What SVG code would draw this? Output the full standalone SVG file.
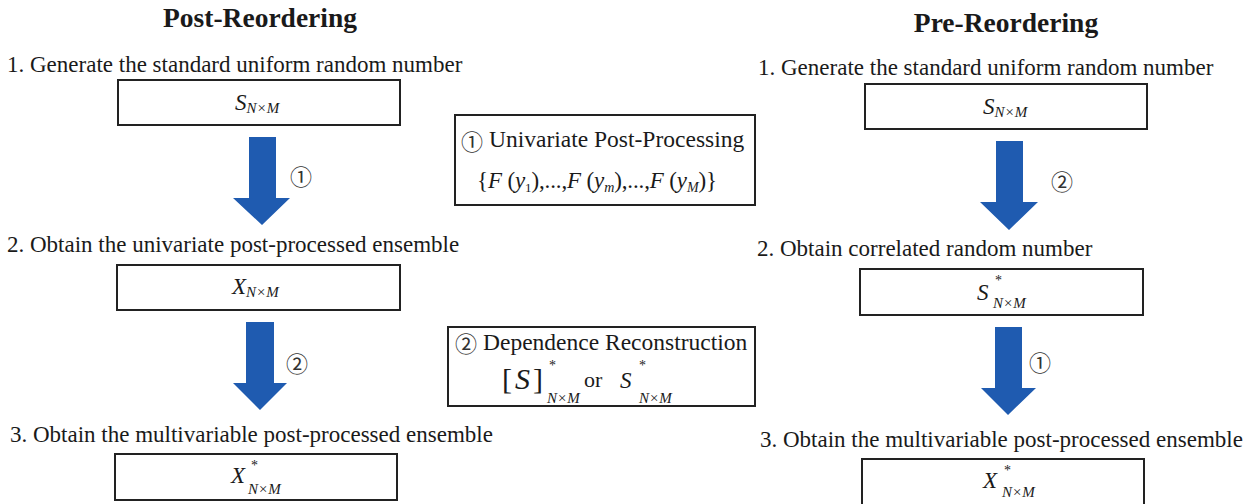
<svg xmlns="http://www.w3.org/2000/svg" width="1249" height="504" viewBox="0 0 1249 504">
<style>
.t{font-family:"Liberation Serif","Times New Roman",serif;fill:#1a1a1a}
.title{font-size:27.5px;font-weight:bold}
.step{font-size:23px}
.box{fill:#fff;stroke:#222;stroke-width:2}
.m{font-family:"Liberation Serif","Times New Roman",serif;font-style:italic;fill:#1a1a1a;font-size:23px}
.sub{font-family:"Liberation Serif","Times New Roman",serif;font-style:italic;fill:#1a1a1a;font-size:15px}
.star{font-family:"Liberation Serif",serif;fill:#1a1a1a;font-size:14px}
.circ{font-family:"Noto Sans CJK SC","DejaVu Sans",sans-serif;fill:#333;font-size:22px}
.arrow{fill:#1f5bb0}
</style>
<rect width="1249" height="504" fill="#fff"/>
<g id="titles">
<text class="t title" x="260" y="27" text-anchor="middle">Post-Reordering</text>
<text class="t title" x="1006" y="32" text-anchor="middle">Pre-Reordering</text>
</g>
<g id="left-step1">
<text class="t step" x="7" y="72">1. Generate the standard uniform random number</text>
<rect class="box" x="118" y="80" width="282" height="45"/>
<text x="235" y="110"><tspan class="m">S</tspan><tspan class="sub" dy="3">N×M</tspan></text>
</g>
<g id="left-step2">
<text class="t step" x="7" y="252">2. Obtain the univariate post-processed ensemble</text>
<rect class="box" x="117" y="265" width="283" height="45"/>
<text x="232" y="294"><tspan class="m">X</tspan><tspan class="sub" dy="3">N×M</tspan></text>
</g>
<g id="left-step3">
<text class="t step" x="10" y="442">3. Obtain the multivariable post-processed ensemble</text>
<rect class="box" x="115" y="454" width="282" height="46"/>
<text class="m" x="231" y="483" font-size="26">X</text>
<text class="star" x="251" y="470">*</text>
<text class="sub" x="248" y="494">N×M</text>
</g>
<g id="univariate-box">
<rect class="box" x="455" y="115" width="300" height="90"/>
<text class="circ" x="472" y="140" text-anchor="middle" dominant-baseline="central">①</text>
<text class="t" x="489" y="147" font-size="23.5">Univariate Post-Processing</text>
<text x="477" y="188" class="t" font-size="23" textLength="240" lengthAdjust="spacing">{<tspan font-style="italic">F</tspan> (<tspan font-style="italic">y</tspan><tspan font-size="13" dy="4">1</tspan><tspan dy="-4">),...,</tspan><tspan font-style="italic">F</tspan> (<tspan font-style="italic">y</tspan><tspan font-size="14" font-style="italic" dy="4">m</tspan><tspan dy="-4">),...,</tspan><tspan font-style="italic">F</tspan> (<tspan font-style="italic">y</tspan><tspan font-size="14" font-style="italic" dy="4">M</tspan><tspan dy="-4">)}</tspan></text>
</g>
<g id="dependence-box">
<rect class="box" x="448" y="327" width="307" height="79"/>
<text class="circ" x="466" y="342" text-anchor="middle" dominant-baseline="central">②</text>
<text class="t" x="483" y="350" font-size="23.5">Dependence Reconstruction</text>
<text class="t" x="502" y="389" font-size="30" letter-spacing="3">[<tspan font-style="italic">S</tspan>]</text>
<text class="star" x="549" y="370">*</text>
<text class="sub" x="547" y="403">N×M</text>
<text class="t" x="584" y="387" font-size="22">or</text>
<text class="m" x="620" y="388" font-size="28">S</text>
<text class="star" x="639" y="370">*</text>
<text class="sub" x="639" y="403">N×M</text>
</g>
<g id="right-step1">
<text class="t step" x="758" y="75">1. Generate the standard uniform random number</text>
<rect class="box" x="865" y="84" width="282" height="45"/>
<text x="983" y="114"><tspan class="m">S</tspan><tspan class="sub" dy="3">N×M</tspan></text>
</g>
<g id="right-step2">
<text class="t step" x="757" y="256">2. Obtain correlated random number</text>
<rect class="box" x="860" y="269" width="283" height="46"/>
<text class="m" x="977" y="300" font-size="26">S</text>
<text class="star" x="995" y="285">*</text>
<text class="sub" x="993" y="308">N×M</text>
</g>
<g id="right-step3">
<text class="t step" x="760" y="447">3. Obtain the multivariable post-processed ensemble</text>
<rect class="box" x="862" y="459" width="282" height="50"/>
<text class="m" x="983" y="488" font-size="26">X</text>
<text class="star" x="1004" y="475">*</text>
<text class="sub" x="1002" y="497">N×M</text>
</g>
<g id="connectors">
<polygon class="arrow" points="249,137 276,137 276,198 290,198 262,225 233,198 249,198"/>
<text class="circ" x="301" y="175" text-anchor="middle" dominant-baseline="central">①</text>
<polygon class="arrow" points="246,322 274,322 274,383 287,383 260,410 233,383 246,383"/>
<text class="circ" x="297" y="362" text-anchor="middle" dominant-baseline="central">②</text>
<polygon class="arrow" points="996,141 1023,141 1023,202 1038,202 1009,230 980,202 996,202"/>
<text class="circ" x="1062" y="180" text-anchor="middle" dominant-baseline="central">②</text>
<polygon class="arrow" points="995,327 1022,327 1022,388 1036,388 1008,415 981,388 995,388"/>
<text class="circ" x="1040" y="361" text-anchor="middle" dominant-baseline="central">①</text>
</g>
</svg>
